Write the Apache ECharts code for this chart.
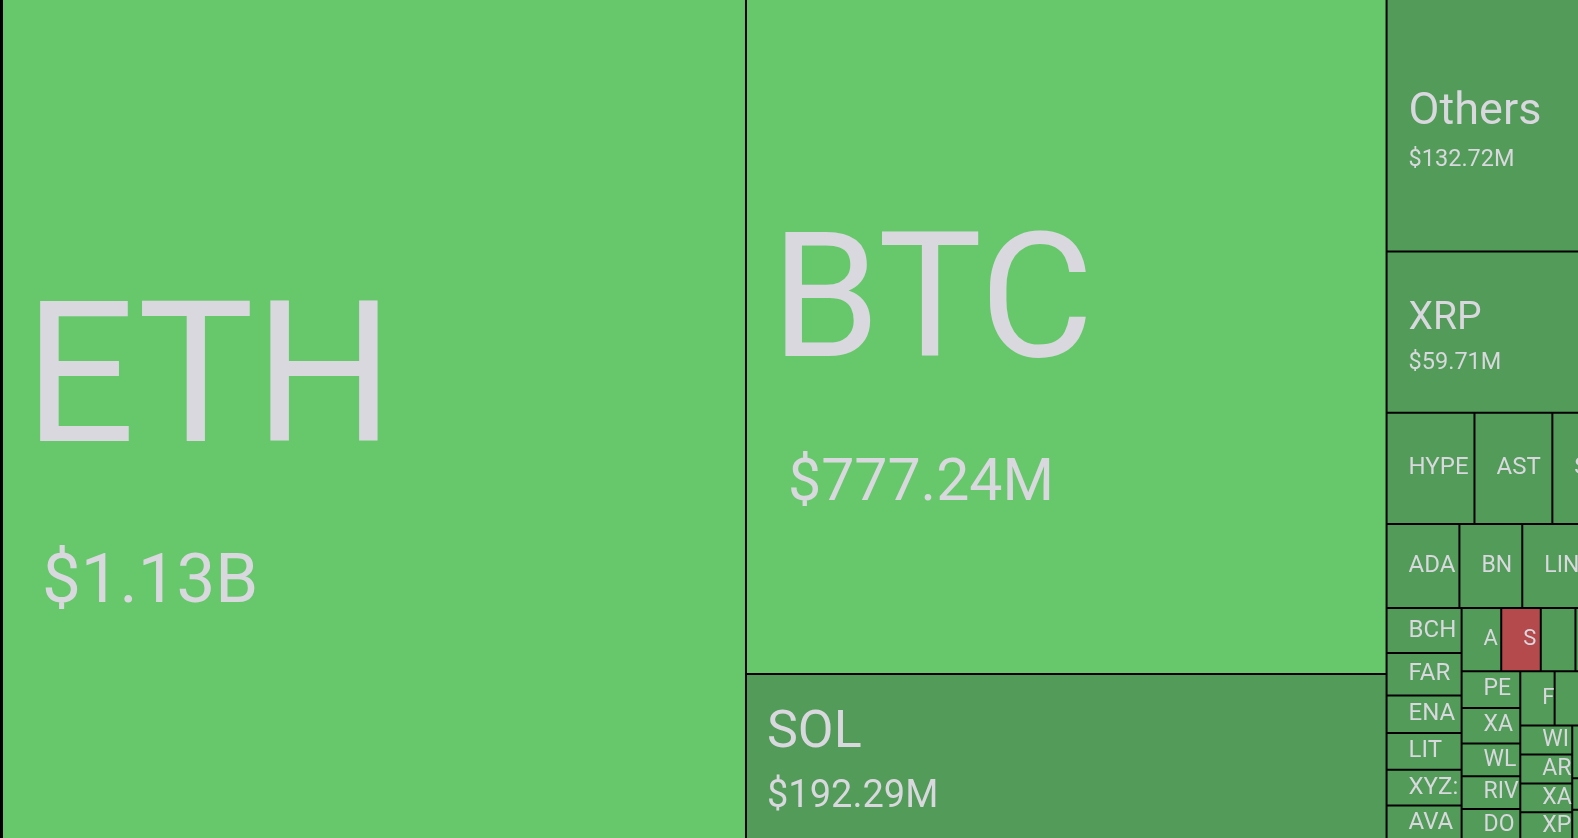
<!DOCTYPE html>
<html>
<head>
<meta charset="utf-8">
<title>Liquidations by coin</title>
<script src="https://cdn.jsdelivr.net/npm/echarts@6/dist/echarts.min.js"></script>
<style>
html, body { margin: 0; padding: 0; background: #000; overflow: hidden; width: 1578px; height: 838px; }
#chart { position: absolute; left: 1px; top: -2px; width: 1679px; height: 844px; }
</style>
</head>
<body>
<div id="chart"></div>
<script>
// liquidation totals per coin, USD millions
var coins = ['ETH', 'BTC', 'SOL', 'Others', 'XRP', 'DOGE', 'HYPE', 'ASTER', 'SUI', 'ZEC',
    'ADA', 'BNB', 'LINK', 'LTC', 'TRX', 'BCH', 'FARTCOIN', 'ENA', 'LIT', 'XYZ:SILVER', 'AVAX',
    'AAVE', 'SIREN', 'UNI', 'PUMP', 'NEAR', 'OP', 'PEPE', 'XAU', 'WLFI', 'RIVER', 'DOT',
    'FIL', 'WLD', 'TAO', 'APT', 'ONDO', 'WIF', 'ARB', 'XAG', 'XPL',
    'TIA', 'SEI', 'INJ', 'ETC', 'ATOM', 'BERA', 'JUP', 'KAITO', 'IP'];
var liquidations = [1126, 777.24, 192.29, 132.72, 59.71, 25.08, 17.56, 15.56, 13.5, 11.8,
    11.02, 9.51, 8.6, 7.9, 7.21, 6.05, 5.75, 5.05, 4.95, 4.81, 4.8,
    4.49, 4.48, 3.93, 3.92, 3.91, 3.9, 3.89, 3.74, 3.46, 3.45, 3.38,
    3.36, 3.2, 3.05, 3.0, 2.92, 2.71, 2.7, 2.69, 2.68,
    2.6, 2.55, 2.5, 2.48, 2.45, 2.42, 2.4, 2.38, 2.37];

// colour groups
var brightCoins = ['ETH', 'BTC'];
var redCoins = ['SIREN'];

// label sizes for the big tiles (name line + value line)
var bigLabel = {
    ETH:    { name: 196, nameLine: 329, value: 69,   valueLine: 57, nameIndent: 21, valueIndent: 39 },
    BTC:    { name: 175, nameLine: 298, value: 59,   valueLine: 49, nameIndent: 24, valueIndent: 41 },
    SOL:    { name: 52,  nameLine: 80,  value: 38,   valueLine: 47, nameIndent: 20, valueIndent: 20 },
    Others: { name: 45,  nameLine: 69,  value: 23.5, valueLine: 25, nameIndent: 21, valueIndent: 21 },
    XRP:    { name: 39,  nameLine: 62,  value: 23.5, valueLine: 26, nameIndent: 21, valueIndent: 21 }
};

var textColor = '#d8d8de';
var smallIndent = 21;
var withValue = {};

function money(v) {
    if (v >= 1000) return '$' + (v / 1000).toFixed(2) + 'B';
    return '$' + v.toFixed(2) + 'M';
}

function fillOf(name) {
    if (brightCoins.indexOf(name) >= 0) return '#67c86b';
    if (redCoins.indexOf(name) >= 0) return '#b54a4d';
    return '#529b58';
}

function buildOption(items) {
    return {
        animation: false,
        textStyle: { fontFamily: 'Roboto' },
        series: [{
            type: 'treemap',
            left: 0, top: 0, right: 0, bottom: 0,
            roam: false,
            nodeClick: false,
            breadcrumb: { show: false },
            squareRatio: 0.5 * (1 + Math.sqrt(5)),
            sort: 'desc',
            itemStyle: { borderColor: '#000', borderWidth: 1, gapWidth: 0 },
            label: {
                show: true,
                position: 'insideTopLeft',
                distance: 0,
                padding: 0,
                color: textColor,
                fontFamily: 'Roboto',
                overflow: 'truncate',
                ellipsis: '',
                formatter: function (p) {
                    var s = '{n|' + p.name + '}';
                    if (withValue[p.name]) s += '\n{v|' + money(p.value) + '}';
                    return s;
                }
            },
            emphasis: { disabled: true },
            data: items
        }]
    };
}

var chart = echarts.init(document.getElementById('chart'));

var baseItems = [];
for (var i = 0; i < coins.length; i++) {
    baseItems.push({ name: coins[i], value: liquidations[i], itemStyle: { color: fillOf(coins[i]) } });
}
chart.setOption(buildOption(baseItems));

// read the tile sizes from the treemap layout to centre the labels vertically
var boxes = {};
try {
    var tree = chart.getModel().getSeriesByIndex(0).getData().tree;
    tree.root.children.forEach(function (node) {
        boxes[node.name] = node.getLayout();
    });
} catch (e) {}

var items = [];
for (var j = 0; j < coins.length; j++) {
    var name = coins[j];
    var box = boxes[name] || { width: 0, height: 0 };
    var w = box.width - 2;
    var h = box.height - 2;
    var big = bigLabel[name];
    var rich, block, indent;
    if (big && w >= 150) {
        withValue[name] = true;
        indent = big.nameIndent;
        rich = {
            n: { fontSize: big.name, lineHeight: big.nameLine, fontFamily: 'Roboto', color: textColor },
            v: { fontSize: big.value, lineHeight: big.valueLine, fontFamily: 'Roboto', color: textColor,
                 padding: [0, 0, 0, big.valueIndent - big.nameIndent] }
        };
        block = big.nameLine + big.valueLine;
    } else {
        var fs = w < 45 ? 22 : (w < 62 ? 23 : 24);
        indent = smallIndent;
        rich = {
            n: { fontSize: fs, lineHeight: fs, fontFamily: 'Roboto', color: textColor },
            v: { fontSize: fs, lineHeight: fs, fontFamily: 'Roboto', color: textColor }
        };
        block = fs;
    }
    items.push({
        name: name,
        value: liquidations[j],
        itemStyle: { color: fillOf(name) },
        // a little slack on the right so a letter touching the border is kept
        label: { padding: [Math.max((h - block) / 2, 0), -3, 0, indent], rich: rich }
    });
}

chart.setOption(buildOption(items), true);
</script>
</body>
</html>
